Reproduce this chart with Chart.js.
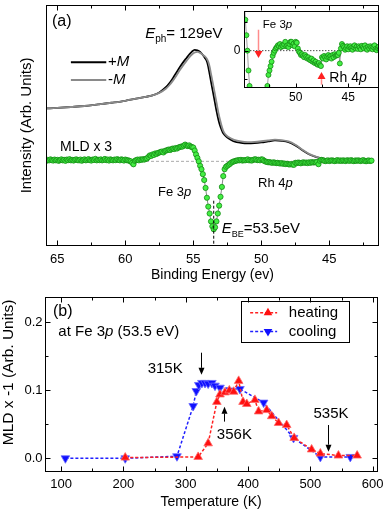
<!DOCTYPE html>
<html><head><meta charset="utf-8">
<script src="https://cdn.jsdelivr.net/npm/chart.js@4.4.1/dist/chart.umd.min.js"></script>
<style>
html,body{margin:0;padding:0;background:#fff;}
#wrap{position:relative;width:390px;height:512px;overflow:hidden;background:#fff;}
canvas{position:absolute;}
#cA{left:0;top:0;}
#cIn{left:226px;top:0;}
#cB{left:0;top:285px;}
</style></head><body>
<div id="wrap">
<canvas id="cA" width="390" height="285"></canvas>
<canvas id="cIn" width="160" height="104"></canvas>
<canvas id="cB" width="390" height="227"></canvas>
</div>
<script>
// ---------- Panel (a): photoemission spectra ----------
const specE     = [65.8,65,64,63,62,61,60,59.5,59,58.5,58,57.5,57,56.75,56.5,56.25,56,55.75,55.5,55.3,55.1,54.9,54.7,54.5,54.3,54.15,54,53.9,53.8,53.7,53.55,53.4,53.3,53.15,53.05,52.9,52.8,52.65,52.5,52.25,52,51.5,51,50.5,50,49.5,49,48.5,48,47.5,47,46.5,46,45.5,45,44.5,44,43.3];
const specPlusM = [13.97,14.03,14.12,14.22,14.38,14.55,14.75,14.9,15.02,15.15,15.3,15.6,16.15,16.55,17.05,17.6,18.15,18.65,19.1,19.45,19.75,19.92,19.88,19.72,19.4,19.1,18.75,18.2,17.45,16.7,15.6,14.5,13.75,12.8,12.3,11.75,11.45,11.2,11.02,10.8,10.62,10.48,10.42,10.45,10.52,10.62,10.72,10.68,10.55,10.22,9.75,9.32,9.05,8.87,8.78,8.72,8.68,8.65];
const specMinusM= [13.97,14.03,14.12,14.22,14.38,14.55,14.75,14.9,15.02,15.15,15.3,15.55,16.0,16.35,16.8,17.3,17.85,18.35,18.8,19.15,19.45,19.65,19.72,19.62,19.42,19.25,19.0,18.7,18.2,17.5,16.45,15.35,14.6,13.5,12.9,12.1,11.7,11.35,11.15,10.95,10.78,10.62,10.56,10.58,10.64,10.72,10.8,10.76,10.62,10.28,9.8,9.36,9.08,8.89,8.79,8.73,8.69,8.66];

// MLD x 3 spectrum, measured on an energy grid from 65.8 eV down in 0.1 eV steps
const mldStartE = 65.8, mldStepE = 0.1;
const mldOffset = 8.6;
const mld = [
 0.05,0.15,0.1,0.2,0.12,0.08,0.18,0.1,0.15,0.05,
 0.12,0.2,0.1,0.15,0.05,0.18,0.12,0.22,0.1,0.14,
 0.08,0.16,0.2,0.12,0.1,0.18,0.06,0.14,0.2,0.1,
 0.15,0.22,0.12,0.08,0.18,0.14,0.25,0.1,0.16,0.12,
 0.2,0.1,0.15,0.24,0.12,0.18,0.08,0.2,0.14,0.1,
 0.18,0.12,0.22,0.15,0.1,0.2,0.16,0.08,0.18,0.12,
 0.1,0.05,0.0,-0.15,-0.3,0.05,0.12,0.18,0.1,0.2,
 0.15,0.22,0.18,0.25,0.3,0.45,0.6,0.55,0.7,0.65,
 0.8,0.75,0.85,0.9,0.95,1.0,0.9,1.05,1.1,1.15,
 1.2,1.15,1.25,1.3,1.25,1.35,1.3,1.4,1.45,1.5,
 1.5,1.6,1.7,1.6,1.55,1.62,1.5,1.45,1.4,1.1,
 0.7,0.35,0.0,-0.45,-0.8,-1.3,-1.9,-2.7,-3.7,-4.6,
 -5.3,-6.1,-6.6,-6.9,-6.7,-6.1,-5.3,-4.5,-3.6,-2.6,
 -1.5,-0.8,-0.55,-0.45,-0.35,-0.25,-0.12,-0.05,0.0,0.05,
 0.08,0.12,0.1,0.15,0.08,0.12,0.1,0.14,0.2,0.1,
 0.12,0.08,0.15,0.2,0.2,0.12,0.16,0.1,0.2,0.18,
 0.05,-0.02,-0.05,-0.1,-0.08,-0.12,-0.15,-0.1,-0.14,-0.18,
 -0.15,-0.2,-0.22,-0.18,-0.25,-0.22,-0.28,-0.25,-0.3,-0.32,
 -0.28,-0.33,-0.35,-0.15,-0.18,-0.12,-0.15,-0.2,-0.14,-0.1,
 -0.15,-0.12,-0.18,-0.1,-0.15,-0.08,-0.12,-0.1,-0.1,-0.05,
 -0.29,0.05,0.15,0.11,0.08,0.02,0.06,0.1,0.03,0.08,
 0.1,0.06,0.02,0.08,0.12,0.05,0.09,0.04,0.1,0.07,
 0.03,0.11,0.08,0.05,0.12,0.06,0.02,0.09,0.05,0.1,
 0.07,0.03,0.08,0.12,0.04,0.01,0.06,0.09,0.03,0.07
];
const eTickLabels = [65,60,55,50,45];
const eMinorTicks = [62.5,57.5,52.5,47.5,42.5];
const insetTickLabels = [50,45];
const insetMinorTicks = [52.5,47.5];

// ---------- Panel (b): MLD vs temperature ----------
const heatT = [203,320,336,350,355,363,370,377,385,392,398,411,417,430,438,449,462,474,502,516,545,575];
const heatV = [0.001,0.002,0.022,0.083,0.094,0.097,0.100,0.098,0.114,0.083,0.080,0.086,0.069,0.071,0.062,0.052,0.049,0.030,0.013,0.007,0.004,0.004];
const coolT = [107,203,286,312,317,321,326,331,336,342,347,355,387,425,473,516,564];
const coolV = [0.000,0.000,0.003,0.077,0.099,0.108,0.111,0.111,0.110,0.111,0.107,0.104,0.102,0.082,0.030,0.002,0.002];
const tTickLabels = [100,200,300,400,500,600];
const tMinorTicks = [150,250,350,450,550];
const mldTickLabels = [0.0,0.1,0.2];
const mldMinorTicks = [0.05,0.15];

// ---------- helpers ----------
const FAM = "'Liberation Sans', Arial, Helvetica, sans-serif";
Chart.defaults.font.family = FAM;
Chart.defaults.color = '#000';

const mldE = mld.map((_, i) => +(mldStartE - mldStepE * i).toFixed(2));
const pts = (xs, ys, off) => xs.map((x, i) => ({x, y: ys[i] + (off || 0)}));

function drawRich(ctx, parts, x, y, base, align, color, rot) {
  ctx.save();
  ctx.translate(x, y);
  if (rot) ctx.rotate(rot * Math.PI / 180);
  ctx.fillStyle = color || '#000';
  ctx.textBaseline = base || 'middle';
  let w = 0;
  parts.forEach(p => { ctx.font = p.f + ' ' + FAM; w += ctx.measureText(p.t).width; });
  let cx = align === 'right' ? -w : align === 'center' ? -w / 2 : 0;
  parts.forEach(p => {
    ctx.font = p.f + ' ' + FAM;
    ctx.fillText(p.t, cx, p.dy || 0);
    cx += ctx.measureText(p.t).width;
  });
  ctx.restore();
}
function tri(ctx, x, y, r, down) {
  const s = down ? -1 : 1, c = Math.cos(Math.PI / 6) * r;
  ctx.beginPath();
  ctx.moveTo(x, y - s * r);
  ctx.lineTo(x + c, y + s * r / 2);
  ctx.lineTo(x - c, y + s * r / 2);
  ctx.closePath();
}
function arrow(ctx, x, y1, y2, col, shaftCol, hl, hw, lw) {
  const dir = Math.sign(y2 - y1);
  ctx.strokeStyle = shaftCol || col; ctx.lineWidth = lw || 1;
  ctx.beginPath(); ctx.moveTo(x, y1); ctx.lineTo(x, y2 - dir * hl); ctx.stroke();
  ctx.fillStyle = col;
  ctx.beginPath(); ctx.moveTo(x, y2); ctx.lineTo(x - hw, y2 - dir * hl); ctx.lineTo(x + hw, y2 - dir * hl);
  ctx.closePath(); ctx.fill();
}

const framePlugin = {
  id: 'frame',
  beforeDraw(chart, args, o) {
    if (!o.bg) return;
    const a = chart.chartArea, ctx = chart.ctx;
    ctx.save(); ctx.fillStyle = o.bg; ctx.fillRect(a.left, a.top, a.right - a.left, a.bottom - a.top); ctx.restore();
  },
  afterDraw(chart, args, o) {
    const {ctx, chartArea: a, scales: {x, y}} = chart;
    ctx.save();
    ctx.strokeStyle = '#000'; ctx.lineWidth = 1;
    const L = Math.round(a.left) + 0.5, R = Math.round(a.right) - 0.5, T = Math.round(a.top) + 0.5, B = Math.round(a.bottom) - 0.5;
    ctx.strokeRect(L, T, R - L, B - T);
    const M = o.majorLen || 5, m = o.minorLen || 3;
    const xt = (vals, len) => (vals || []).forEach(v => {
      const p = Math.round(x.getPixelForValue(v)) + 0.5;
      ctx.beginPath(); ctx.moveTo(p, B); ctx.lineTo(p, B - len);
      if (o.mirrorX) { ctx.moveTo(p, T); ctx.lineTo(p, T + len); }
      ctx.stroke();
    });
    const yt = (vals, len) => (vals || []).forEach(v => {
      const p = Math.round(y.getPixelForValue(v)) + 0.5;
      ctx.beginPath(); ctx.moveTo(L, p); ctx.lineTo(L + len, p);
      if (o.mirrorY) { ctx.moveTo(R, p); ctx.lineTo(R - len, p); }
      ctx.stroke();
    });
    xt(o.xMajor, M); xt(o.xMinor, m); yt(o.yMajor, M); yt(o.yMinor, m);
    ctx.restore();
  }
};

const notesPlugin = {
  id: 'notes',
  afterDraw(chart, args, o) {
    const {ctx, scales: {x, y}} = chart;
    const X = v => x.getPixelForValue(v), Y = v => y.getPixelForValue(v);
    ctx.save();
    (o.items || []).forEach(it => {
      if (it.type === 'text') {
        drawRich(ctx, it.parts, X(it.x), Y(it.y), it.base, it.align, it.color, it.rot);
      } else if (it.type === 'line') {
        ctx.strokeStyle = it.color; ctx.lineWidth = it.w || 1; ctx.setLineDash(it.dash || []);
        ctx.beginPath(); ctx.moveTo(X(it.x), Y(it.y)); ctx.lineTo(X(it.x2), Y(it.y2)); ctx.stroke();
        ctx.setLineDash([]);
      } else if (it.type === 'arrow') {
        arrow(ctx, Math.round(X(it.x)) + 0.5, Y(it.y), Y(it.y2), it.color || '#000', it.shaft, it.hl || 7, it.hw || 3, it.lw || 1);
      } else if (it.type === 'box') {
        ctx.strokeStyle = '#000'; ctx.lineWidth = 1;
        const x1 = Math.round(X(it.x)) + 0.5, y1 = Math.round(Y(it.y)) + 0.5;
        ctx.strokeRect(x1, y1, Math.round(X(it.x2) - X(it.x)), Math.round(Y(it.y2) - Y(it.y)));
      } else if (it.type === 'legend') {
        const ds = chart.data.datasets[it.ds];
        const yy = Y(it.y);
        ctx.strokeStyle = ds.borderColor; ctx.lineWidth = ds.borderWidth; ctx.setLineDash(ds.borderDash || []);
        ctx.beginPath(); ctx.moveTo(X(it.x), yy); ctx.lineTo(X(it.x2), yy); ctx.stroke();
        ctx.setLineDash([]);
        ctx.fillStyle = ds.pointBackgroundColor;
        tri(ctx, X(it.xm), yy, ds.pointRadius, ds.pointRotation === 180); ctx.fill();
        drawRich(ctx, [{t: ds.label, f: '15px'}], X(it.tx), yy, 'middle', 'left', '#000');
      }
    });
    ctx.restore();
  }
};

const setTicks = arr => (s => { s.ticks = arr.map(v => ({value: v})); });
const base = {
  responsive: false, animation: false, events: [],
  plugins: {legend: {display: false}, tooltip: {enabled: false}}
};

// ---------- Chart (a) ----------
new Chart(document.getElementById('cA'), {
  type: 'scatter',
  data: {datasets: [
    {label: 'MLD x 3', data: pts(mldE, mld, mldOffset), showLine: true, borderColor: '#555', borderWidth: 0.7,
     pointRadius: 2.6, pointBackgroundColor: '#44ee44', pointBorderColor: '#138a13', pointBorderWidth: 0.8, order: 0},
    {label: '-M', data: pts(specE, specMinusM), showLine: true, borderColor: '#8a8a8a', borderWidth: 1.8,
     pointRadius: 0, cubicInterpolationMode: 'monotone', order: 1},
    {label: '+M', data: pts(specE, specPlusM), showLine: true, borderColor: '#000', borderWidth: 1.8,
     pointRadius: 0, cubicInterpolationMode: 'monotone', order: 2},
    {label: 'zero', data: [{x: 65.83, y: mldOffset}, {x: 42.2, y: mldOffset}], showLine: true, borderColor: '#aaa',
     borderWidth: 1, borderDash: [3, 2], pointRadius: 0, order: 3}
  ]},
  options: Object.assign({}, base, {
    layout: {padding: {top: 1, right: 11, left: 0, bottom: 0}},
    plugins: Object.assign({}, base.plugins, {
      frame: {xMajor: eTickLabels, xMinor: eMinorTicks, mirrorX: true, majorLen: 5, minorLen: 3},
      notes: {items: [
        {type: 'text', x: 65.39, y: 22.8, parts: [{t: '(a)', f: '16px'}]},
        {type: 'text', x: 58.54, y: 21.1, base: 'alphabetic', parts: [{t: 'E', f: 'italic 15px'}, {t: 'ph', f: '10px', dy: 3.5}, {t: '= 129eV', f: '15px'}]},
        {type: 'line', x: 64.0, y: 18.67, x2: 61.4, y2: 18.67, color: '#000', w: 2},
        {type: 'text', x: 61.27, y: 18.67, parts: [{t: '+', f: '15px'}, {t: 'M', f: 'italic 15px'}]},
        {type: 'line', x: 64.0, y: 16.87, x2: 61.4, y2: 16.87, color: '#8a8a8a', w: 2},
        {type: 'text', x: 61.27, y: 16.87, parts: [{t: '-', f: '15px'}, {t: 'M', f: 'italic 15px'}]},
        {type: 'text', x: 64.8, y: 10.03, parts: [{t: 'MLD x 3', f: '14px'}]},
        {type: 'text', x: 57.6, y: 5.43, parts: [{t: 'Fe 3', f: '13px'}, {t: 'p', f: 'italic 13px'}]},
        {type: 'text', x: 50.24, y: 6.33, parts: [{t: 'Rh 4', f: '13px'}, {t: 'p', f: 'italic 13px'}]},
        {type: 'line', x: 53.5, y: 4.6, x2: 53.5, y2: 0, color: '#000', w: 1, dash: [3, 2]},
        {type: 'text', x: 52.91, y: 1.27, base: 'alphabetic', parts: [{t: 'E', f: 'italic 15px'}, {t: 'BE', f: '9px', dy: 3.5}, {t: '=53.5eV', f: '15px'}]}
      ]}
    }),
    scales: {
      x: {type: 'linear', reverse: true, min: 41.35, max: 65.83,
          grid: {display: false, drawTicks: false}, border: {display: false},
          afterBuildTicks: setTicks(eTickLabels), afterFit: s => { s.height = 39; },
          ticks: {padding: 5.7, maxRotation: 0, font: {size: 13}, color: '#000', callback: v => String(v)},
          title: {display: true, text: 'Binding Energy (ev)', font: {size: 14}, color: '#000', padding: {top: 0, bottom: 1.6}}},
      y: {min: 0, max: 24.5, grid: {display: false, drawTicks: false}, border: {display: false},
          ticks: {display: false}, afterFit: s => { s.width = 46; },
          title: {display: true, text: 'Intensity (Arb. Units)', font: {size: 15}, color: '#000', padding: {top: 18, bottom: 0}}}
    }
  }),
  plugins: [framePlugin, notesPlugin]
});

// ---------- Inset ----------
new Chart(document.getElementById('cIn'), {
  type: 'scatter',
  data: {datasets: [
    {label: 'MLD', data: pts(mldE, mld), showLine: true, borderColor: '#777', borderWidth: 0.7,
     pointRadius: 2.5, pointBackgroundColor: '#44ee44', pointBorderColor: '#138a13', pointBorderWidth: 0.8, order: 0},
    {label: 'zero', data: [{x: 54.9, y: 0}, {x: 42.07, y: 0}], showLine: true, borderColor: '#000',
     borderWidth: 1, borderDash: [1, 2], pointRadius: 0, order: 1}
  ]},
  options: Object.assign({}, base, {
    layout: {padding: {top: 1, right: 7, left: 0, bottom: 0}},
    plugins: Object.assign({}, base.plugins, {
      frame: {bg: '#fff', xMajor: insetTickLabels, xMinor: insetMinorTicks, yMajor: [0], yMinor: [-0.65, 0.65], majorLen: 4, minorLen: 3},
      notes: {items: [
        {type: 'text', x: 53.14, y: 0.59, parts: [{t: 'Fe 3', f: '11.5px'}, {t: 'p', f: 'italic 11.5px'}]},
        {type: 'arrow', x: 53.56, y: 0.474, y2: -0.166, color: '#ff2020', shaft: '#ff8c8c', hl: 7, hw: 4, lw: 1.5},
        {type: 'text', x: 46.8, y: -0.626, parts: [{t: 'Rh 4', f: '14px'}, {t: 'p', f: 'italic 14px'}]},
        {type: 'arrow', x: 47.59, y: -0.772, y2: -0.486, color: '#ff2020', shaft: '#ff8c8c', hl: 7, hw: 4, lw: 1.5}
      ]}
    }),
    scales: {
      x: {type: 'linear', reverse: true, min: 42.07, max: 54.9,
          grid: {display: false, drawTicks: false}, border: {display: false},
          afterBuildTicks: setTicks(insetTickLabels), afterFit: s => { s.height = 16.3; },
          ticks: {padding: 2.3, maxRotation: 0, font: {size: 12}, color: '#000', callback: v => String(v)}},
      y: {min: -0.84, max: 0.894, grid: {display: false, drawTicks: false}, border: {display: false},
          afterBuildTicks: setTicks([0]), afterFit: s => { s.width = 18.3; },
          ticks: {padding: 4, font: {size: 12}, color: '#000', callback: v => String(v)}}
    }
  }),
  plugins: [framePlugin, notesPlugin]
});

// ---------- Chart (b) ----------
new Chart(document.getElementById('cB'), {
  type: 'scatter',
  data: {datasets: [
    {label: 'heating', data: pts(heatT, heatV), showLine: true, borderColor: '#ff2020', borderWidth: 1.5, borderDash: [3, 2],
     pointStyle: 'triangle', pointRadius: 5, pointRotation: 0, pointBackgroundColor: '#ff1010', pointBorderColor: '#ff6a6a', pointBorderWidth: 0.8, order: 0},
    {label: 'cooling', data: pts(coolT, coolV), showLine: true, borderColor: '#2020ff', borderWidth: 1.5, borderDash: [3, 2],
     pointStyle: 'triangle', pointRadius: 5, pointRotation: 180, pointBackgroundColor: '#1010ff', pointBorderColor: '#6a6aff', pointBorderWidth: 0.8, order: 1}
  ]},
  options: Object.assign({}, base, {
    layout: {padding: {top: 11.7, right: 12.3, left: 0, bottom: 0}},
    plugins: Object.assign({}, base.plugins, {
      frame: {xMajor: tTickLabels, xMinor: tMinorTicks, yMajor: mldTickLabels, yMinor: mldMinorTicks, mirrorX: true, mirrorY: true, majorLen: 5, minorLen: 3},
      notes: {items: [
        {type: 'text', x: 87.2, y: 0.2158, parts: [{t: '(b)', f: '16px'}]},
        {type: 'text', x: 95.7, y: 0.1858, parts: [{t: 'at Fe 3', f: '15px'}, {t: 'p', f: 'italic 15px'}, {t: ' (53.5 eV)', f: '15px'}]},
        {type: 'text', x: 295.2, y: 0.132, align: 'right', parts: [{t: '315K', f: '15px'}]},
        {type: 'arrow', x: 324.6, y: 0.1555, y2: 0.1229, hl: 7, hw: 3},
        {type: 'text', x: 350, y: 0.0344, parts: [{t: '356K', f: '15px'}]},
        {type: 'arrow', x: 362, y: 0.054, y2: 0.076, hl: 7, hw: 3},
        {type: 'text', x: 505, y: 0.065, parts: [{t: '535K', f: '15px'}]},
        {type: 'arrow', x: 529, y: 0.049, y2: 0.0097, hl: 7, hw: 3},
        {type: 'text', x: 15.8, y: 0.1265, rot: -90, align: 'center', parts: [{t: 'MLD x -1 (Arb. Units)', f: '15.5px'}]},
        {type: 'box', x: 388.4, y: 0.232, x2: 561, y2: 0.172},
        {type: 'legend', ds: 0, x: 403.4, x2: 446.7, xm: 432, y: 0.2143, tx: 465.5},
        {type: 'legend', ds: 1, x: 403.4, x2: 446.7, xm: 432, y: 0.1867, tx: 465.5}
      ]}
    }),
    scales: {
      x: {type: 'linear', min: 73.5, max: 608,
          grid: {display: false, drawTicks: false}, border: {display: false},
          afterBuildTicks: setTicks(tTickLabels), afterFit: s => { s.height = 40; },
          ticks: {padding: 4.9, maxRotation: 0, font: {size: 13}, color: '#000', callback: v => String(v)},
          title: {display: true, text: 'Temperature (K)', font: {size: 14}, color: '#000', padding: {top: 0, bottom: 1.9}}},
      y: {min: -0.0202, max: 0.238, grid: {display: false, drawTicks: false}, border: {display: false},
          afterBuildTicks: setTicks(mldTickLabels), afterFit: s => { s.width = 44.5; },
          ticks: {padding: 2, font: {size: 13}, color: '#000', callback: v => Number(v).toFixed(1)}}
    }
  }),
  plugins: [framePlugin, notesPlugin]
});
</script>
</body></html>
